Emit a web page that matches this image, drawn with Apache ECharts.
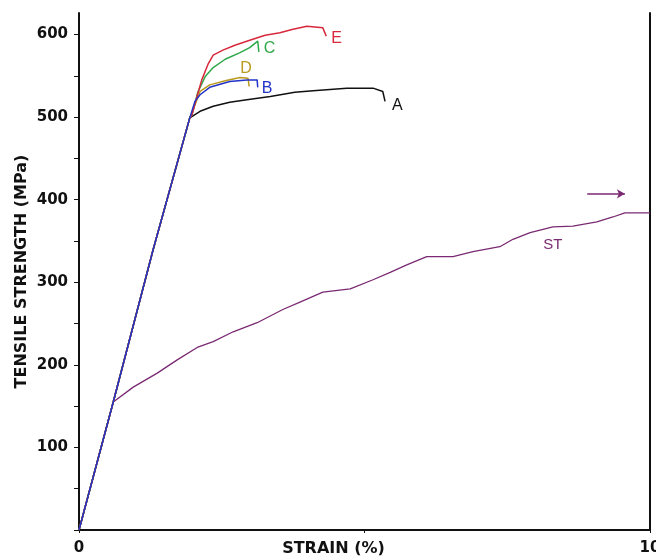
<!DOCTYPE html>
<html>
<head>
<meta charset="utf-8">
<script src="https://cdn.jsdelivr.net/npm/echarts@6/dist/echarts.min.js"></script>
<style>
  html, body { margin: 0; padding: 0; background: #fff; }
  #chart { width: 656px; height: 560px; }
</style>
</head>
<body>
<div id="chart"></div>
<script>
// strain (%) / tensile strength (MPa)
const elasticStrain = [0, 0.6, 1.3, 1.94];
const elasticStress = [0, 155, 340, 499];

const aStrain = [2.12, 2.35, 2.64, 2.94, 3.35, 3.78, 4.10, 4.69, 5.15, 5.32, 5.36];
const aStress = [507, 513, 518, 521, 525, 530, 532, 535, 535, 531, 519];

const bStrain = [2.03, 2.12, 2.29, 2.64, 2.94, 3.12, 3.13];
const bStress = [519, 527, 536, 543, 545, 545, 536];

const cStrain = [1.98, 2.08, 2.21, 2.35, 2.56, 2.82, 2.99, 3.13, 3.15];
const cStress = [503, 530, 549, 560, 570, 578, 584, 592, 579];

const dStrain = [2.0, 2.12, 2.29, 2.56, 2.82, 2.96, 2.98];
const dStress = [509, 531, 539, 544, 548, 547, 537];

const eStrain = [1.98, 2.05, 2.15, 2.26, 2.35, 2.52, 2.73, 2.99, 3.26, 3.52, 3.73, 3.99, 4.27, 4.33];
const eStress = [503, 521, 545, 564, 575, 581, 587, 593, 599, 602, 606, 610, 608, 598];

const stStrain = [0.95, 1.37, 1.72, 2.07, 2.35, 2.70, 3.12, 3.57, 3.87, 4.27, 4.75, 5.15, 5.45, 5.74,
                  6.09, 6.55, 6.90, 7.37, 7.60, 7.90, 8.30, 8.65, 9.07, 9.35, 9.56, 10.0];
const stStress = [173, 190, 206, 221, 228, 240, 251, 267, 276, 288, 292, 303, 312, 321,
                  331, 331, 337, 343, 352, 360, 367, 368, 373, 379, 384, 384];

const stLabelIndex = 20;          // ST label sits under this point
const arrowFrom = [8.9, 407];
const arrowTo = [9.56, 407];

const yLabels = [100, 200, 300, 400, 500, 600];
const yTicks = [0, 50, 100, 150, 200, 250, 300, 350, 400, 450, 500, 550, 600];
const xLabels = [0, 10];
const xTicks = [0, 5, 10];

const curves = [
    { name: 'A', color: '#111111', strain: aStrain, stress: aStress },
    { name: 'D', color: '#b89a1c', strain: dStrain, stress: dStress },
    { name: 'C', color: '#2fa84a', strain: cStrain, stress: cStress },
    { name: 'E', color: '#d8283c', strain: eStrain, stress: eStress },
    { name: 'B', color: '#2233c8', strain: bStrain, stress: bStress },
];

const zip = (xs, ys) => xs.map((x, i) => [x, ys[i]]);
const elastic = zip(elasticStrain, elasticStress);

const labelFont = 'Liberation Sans, Arial, sans-serif';
const axisFont = 'DejaVu Sans, sans-serif';

const endLabelOffset = { A: [4, 4], B: [1, 1], C: [2, -3], D: [-12, -18], E: [2, 2] };

const series = curves.map((c) => ({
    name: c.name,
    type: 'line',
    data: elastic.concat(zip(c.strain, c.stress)),
    showSymbol: false,
    symbol: 'none',
    lineStyle: { color: c.color, width: 1.5 },
    endLabel: {
        show: true,
        formatter: c.name,
        color: c.color,
        fontFamily: labelFont,
        fontSize: 16,
        distance: 3,
        offset: endLabelOffset[c.name],
    },
    z: 2,
}));

const stColor = '#7a2a72';
series.push({
    name: 'ST',
    type: 'line',
    data: elastic.slice(0, 2).concat(zip(stStrain, stStress)),
    showSymbol: false,
    symbol: 'none',
    lineStyle: { color: stColor, width: 1.3 },
    markPoint: {
        silent: true,
        symbol: 'circle',
        symbolSize: 1,
        itemStyle: { color: 'rgba(0,0,0,0)' },
        label: { show: true, formatter: 'ST', position: 'bottom', distance: 10,
            color: stColor, fontFamily: labelFont, fontSize: 15 },
        data: [{ coord: [stStrain[stLabelIndex], stStress[stLabelIndex]] }],
    },
    markLine: {
        silent: true,
        symbol: ['none', 'arrow'],
        symbolSize: [7, 8],
        label: { show: false },
        lineStyle: { color: stColor, width: 1.5, type: 'solid' },
        data: [[{ coord: arrowFrom }, { coord: arrowTo }]],
    },
    z: 1,
});

const chart = echarts.init(document.getElementById('chart'), null, { renderer: 'canvas' });

chart.setOption({
    backgroundColor: '#fff',
    animation: false,
    grid: { left: 79, right: 6, top: 13, bottom: 30, outerBoundsMode: 'none', containLabel: false },
    xAxis: {
        type: 'value',
        min: 0,
        max: 10,
        interval: 5,
        name: 'STRAIN (%)',
        nameLocation: 'middle',
        nameGap: 11,
        nameMoveOverlap: false,
        nameTextStyle: { color: '#111', fontFamily: axisFont, fontWeight: 'bold', fontSize: 16, padding: [0, 62, 0, 0] },
        axisLine: { show: true, lineStyle: { color: '#111', width: 2 } },
        axisTick: { show: true, length: 3, customValues: xTicks, lineStyle: { color: '#111' } },
        axisLabel: { customValues: xLabels, margin: 11, color: '#111', fontFamily: axisFont, fontWeight: 'bold', fontSize: 15 },
        splitLine: { show: false },
    },
    yAxis: [{
        type: 'value',
        min: 0,
        max: 626,
        interval: 50,
        name: 'TENSILE STRENGTH (MPa)',
        nameLocation: 'middle',
        nameGap: 49,
        nameMoveOverlap: false,
        nameTextStyle: { color: '#111', fontFamily: axisFont, fontWeight: 'bold', fontSize: 16 },
        axisLine: { show: true, lineStyle: { color: '#111', width: 2 } },
        axisTick: { show: true, length: 5, customValues: yTicks, lineStyle: { color: '#111' } },
        axisLabel: { customValues: yLabels, margin: 11, color: '#111', fontFamily: axisFont, fontWeight: 'bold', fontSize: 15 },
        splitLine: { show: false },
    }, {
        type: 'value',
        position: 'right',
        min: 0,
        max: 626,
        axisLine: { show: true, lineStyle: { color: '#111', width: 2 } },
        axisTick: { show: false },
        axisLabel: { show: false },
        splitLine: { show: false },
    }],
    series,
});

window.addEventListener('resize', () => chart.resize());
</script>
</body>
</html>
